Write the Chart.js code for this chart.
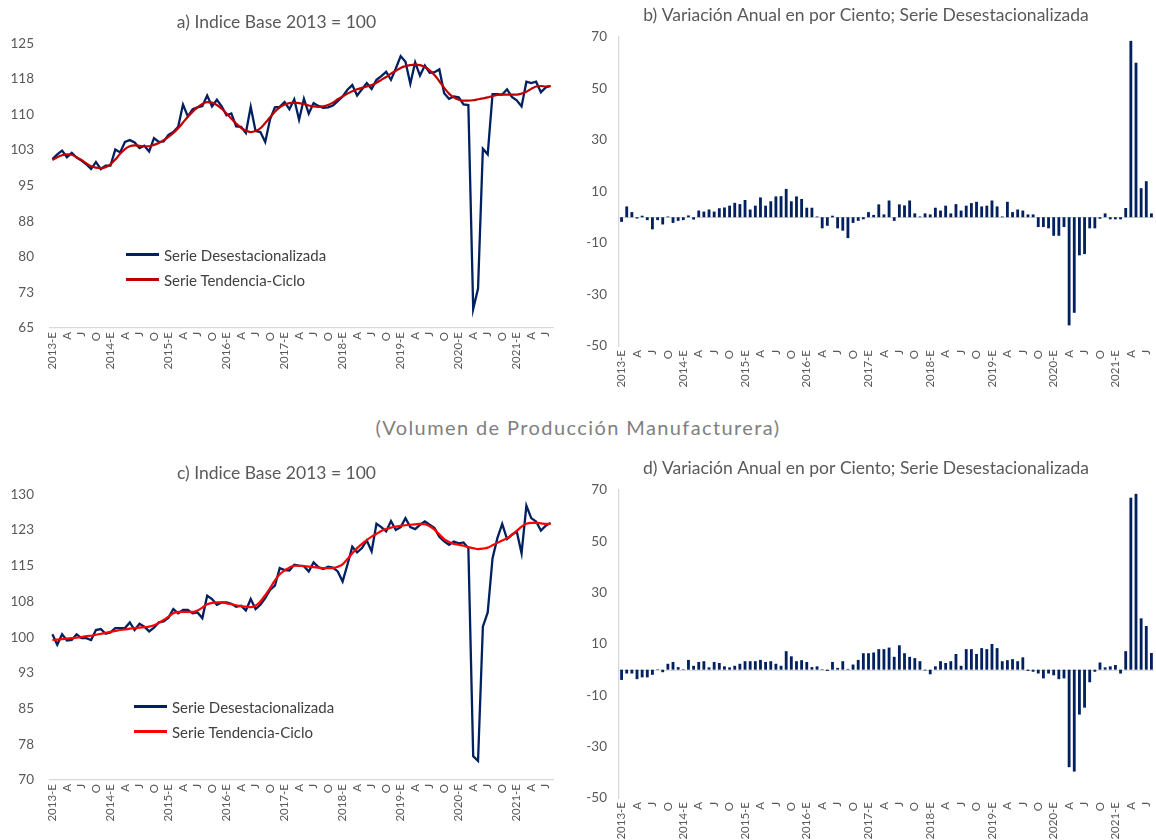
<!DOCTYPE html>
<html lang="es">
<head>
<meta charset="utf-8">
<title>Volumen de Producción Manufacturera</title>
<script src="https://cdn.jsdelivr.net/npm/chart.js@4.4.1/dist/chart.umd.min.js"></script>
<style>
  html, body { margin: 0; padding: 0; background: #ffffff; width: 1156px; height: 840px; overflow: hidden; }
  canvas { position: absolute; }
  #subtitle { position: absolute; left: 0; top: 415px; width: 1156px; text-align: center;
              font: 20px Lato, "Open Sans", sans-serif; letter-spacing: 1.4px; color: #7f7f7f; }
  .legend { position: absolute; font: 15px Lato, "Open Sans", sans-serif; color: #404040; }
  .legend .row { display: flex; align-items: center; height: 25px; }
  .legend .sw { display: inline-block; width: 33px; height: 2.5px; margin-right: 5px; }
</style>
</head>
<body>
<canvas id="cA" width="572" height="400" style="left:0;top:0"></canvas>
<canvas id="cB" width="596" height="400" style="left:578px;top:0"></canvas>
<canvas id="cC" width="572" height="400" style="left:0;top:440px"></canvas>
<canvas id="cD" width="596" height="400" style="left:578px;top:440px"></canvas>
<div id="subtitle">(Volumen de Producción Manufacturera)</div>
<div class="legend" id="legA" style="left:126px;top:242px"></div>
<div class="legend" id="legC" style="left:134px;top:694px"></div>

<script>
// ---- categories: monthly, January 2013 to August 2021 ----
const years = [2013, 2014, 2015, 2016, 2017, 2018, 2019, 2020, 2021];
const monthInitials = ['E', 'F', 'M', 'A', 'M', 'J', 'J', 'A', 'S', 'O', 'N', 'D'];
const lastMonthOfFinalYear = 8;

// ---- a) Indice base 2013 = 100 ----
const desestA = [
  100.6, 101.6, 102.4, 101.0, 101.9, 100.9, 100.3, 99.5, 98.5, 100.0, 98.5, 99.2,
  99.2, 102.6, 102.0, 104.2, 104.6, 104.1, 102.9, 103.4, 102.2, 105.0, 104.2, 104.3,
  105.7, 106.3, 107.4, 112.1, 109.6, 111.1, 111.5, 111.8, 114.0, 111.7, 113.1, 111.7,
  109.8, 110.2, 107.5, 107.4, 106.1, 111.6, 106.5, 106.3, 104.2, 109.0, 111.5, 111.6,
  112.6, 111.1, 113.2, 108.9, 113.3, 110.2, 112.4, 111.8, 111.4, 111.5, 111.9, 112.8,
  113.8, 115.2, 116.2, 114.0, 115.3, 116.6, 115.4, 117.3, 118.1, 119.0, 117.3, 119.7,
  122.3, 121.1, 116.5, 121.0, 118.2, 120.3, 118.8, 118.9, 119.5, 114.5, 113.3, 113.8,
  113.6, 112.1, 112.0, 69.0, 73.3, 102.8, 101.6, 114.3, 114.3, 114.2, 115.3, 113.7,
  113.0, 111.7, 116.9, 116.6, 116.9, 114.7, 115.7, 116.0
];
const tendA = [
  100.4, 101.0, 101.4, 101.6, 101.5, 101.0, 100.4, 99.7, 99.1, 98.8, 98.7, 98.9,
  99.5, 100.5, 101.7, 102.7, 103.3, 103.5, 103.4, 103.3, 103.3, 103.6, 104.0, 104.6,
  105.3, 106.1, 107.1, 108.3, 109.5, 110.6, 111.5, 112.2, 112.6, 112.5, 112.0, 111.2,
  110.2, 109.1, 108.1, 107.2, 106.6, 106.3, 106.5, 107.1, 108.2, 109.4, 110.6, 111.5,
  112.1, 112.4, 112.5, 112.4, 112.2, 111.9, 111.7, 111.6, 111.7, 112.0, 112.5, 113.2,
  113.8, 114.4, 114.9, 115.3, 115.6, 115.9, 116.2, 116.7, 117.3, 117.9, 118.6, 119.2,
  119.8, 120.2, 120.4, 120.5, 120.4, 120.0, 119.3, 118.3, 117.0, 115.6, 114.4, 113.6,
  113.1, 112.9, 112.9, 113.0, 113.2, 113.4, 113.6, 113.9, 114.1, 114.2, 114.2, 114.2,
  114.2, 114.4, 114.8, 115.4, 115.9, 116.0, 115.9, 116.0
];

// ---- b) variación anual, serie desestacionalizada ----
const varAnualB = [
  -1.8, 4.2, 2.0, -0.5, 0.6, -1.1, -4.7, -1.1, -2.8, 0.3, -2.2, -1.4,
  -1.1, 0.7, -0.9, 2.6, 2.2, 3.0, 2.2, 3.5, 3.8, 4.5, 5.6, 5.1,
  6.7, 3.0, 4.5, 7.7, 4.5, 6.2, 8.1, 8.2, 11.0, 6.2, 8.1, 7.1,
  3.7, 3.7, 0.3, -4.3, -3.3, 0.6, -4.3, -5.2, -8.1, -2.2, -1.4, -0.8,
  2.0, 0.9, 5.0, 1.1, 6.5, -1.4, 5.0, 4.6, 6.5, 1.5, 0.3, 1.5,
  1.1, 3.7, 2.6, 4.5, 1.5, 5.1, 2.6, 4.5, 5.5, 6.0, 4.2, 4.5,
  6.5, 4.2, 0.3, 6.0, 2.0, 3.0, 2.6, 1.1, 1.1, -3.8, -3.8, -4.3,
  -7.2, -7.2, -3.8, -42.0, -37.1, -14.8, -14.3, -4.3, -4.3, -0.6, 1.5, -0.8,
  -0.8, -0.8, 3.6, 68.5, 60.0, 11.3, 14.0, 1.5
];

// ---- c) Indice base 2013 = 100 ----
const desestC = [
  100.6, 98.4, 100.6, 99.3, 99.4, 100.6, 99.8, 99.8, 99.4, 101.5, 101.7, 100.7,
  101.0, 101.9, 101.9, 101.9, 103.1, 101.5, 102.8, 102.2, 101.2, 102.0, 103.1, 103.3,
  104.1, 105.9, 105.0, 105.7, 105.7, 105.0, 105.2, 104.0, 108.7, 108.0, 106.8, 107.3,
  107.3, 107.0, 106.4, 106.6, 105.6, 108.0, 105.9, 106.8, 108.2, 109.9, 110.8, 114.5,
  114.1, 114.0, 115.2, 115.0, 114.9, 113.8, 115.7, 114.7, 114.3, 114.8, 114.6, 113.8,
  111.7, 115.2, 119.0, 117.8, 118.7, 120.3, 118.0, 123.8, 123.1, 122.2, 124.4, 122.5,
  123.1, 125.0, 123.1, 122.7, 123.6, 124.3, 123.6, 122.9, 121.1, 120.1, 119.4, 120.1,
  119.7, 119.9, 118.7, 75.0, 74.0, 102.2, 105.2, 116.6, 120.8, 123.8, 120.6, 121.5,
  122.2, 117.6, 127.6, 125.0, 124.3, 122.4, 123.4, 124.0
];
const tendC = [
  99.4, 99.5, 99.6, 99.7, 99.8, 99.9, 100.0, 100.2, 100.3, 100.5, 100.7, 100.9,
  101.1, 101.3, 101.5, 101.6, 101.8, 101.9, 102.0, 102.1, 102.2, 102.5, 103.0, 103.6,
  104.3, 105.0, 105.3, 105.3, 105.3, 105.3, 105.6, 106.2, 106.9, 107.2, 107.3, 107.3,
  107.1, 106.9, 106.7, 106.5, 106.4, 106.3, 106.6, 107.5, 108.8, 110.3, 111.9, 113.2,
  114.0, 114.6, 115.0, 115.0, 114.9, 114.8, 114.7, 114.6, 114.5, 114.5, 114.5, 114.8,
  115.3, 116.4, 117.6, 118.7, 119.6, 120.4, 121.1, 121.7, 122.3, 122.7, 123.0, 123.2,
  123.4, 123.5, 123.6, 123.7, 123.8, 123.7, 123.3, 122.6, 121.6, 120.6, 120.0, 119.6,
  119.4, 119.2, 118.9, 118.7, 118.5, 118.6, 118.8, 119.3, 119.8, 120.3, 120.8, 121.5,
  122.3, 123.2, 123.8, 124.0, 124.0, 123.9, 123.8, 123.8
];

// ---- d) variación anual, serie desestacionalizada ----
const varAnualD = [
  -4.0, -1.5, -1.5, -3.7, -3.0, -3.0, -2.0, 0.2, -1.0, 2.3, 3.0, 1.0,
  0.2, 3.8, 1.5, 3.0, 3.3, 0.9, 3.0, 2.6, 1.3, 0.9, 1.5, 2.3,
  3.3, 3.3, 3.3, 3.8, 3.0, 3.3, 2.3, 1.5, 7.2, 5.2, 3.3, 3.7,
  3.0, 1.0, 1.3, 0.2, -0.5, 3.0, 0.7, 3.3, 0.3, 2.0, 3.8, 6.4,
  6.4, 6.7, 8.0, 8.0, 8.6, 5.0, 9.5, 6.4, 5.0, 4.5, 3.3, -0.3,
  -1.8, 1.3, 3.3, 2.6, 3.3, 6.1, 1.5, 8.0, 8.0, 6.1, 8.4, 8.0,
  10.0, 8.4, 3.3, 3.7, 4.1, 3.3, 4.8, -0.5, -0.8, -1.5, -3.4, -1.5,
  -2.2, -3.7, -3.4, -38.0, -39.7, -17.5, -14.8, -4.9, -0.8, 2.8, 0.9, 1.3,
  1.8, -1.5, 7.2, 67.0, 68.5, 20.0, 17.0, 6.5
];

const labelA1 = 'Serie Desestacionalizada';
const labelA2 = 'Serie Tendencia-Ciclo';

// ---- build the category labels ("2013-E", "F", "M", ...) ----
const categories = [];
years.forEach((y, yi) => {
  const nMonths = yi === years.length - 1 ? lastMonthOfFinalYear : 12;
  for (let m = 0; m < nMonths; m++) {
    categories.push(m === 0 ? y + '-' + monthInitials[m] : monthInitials[m]);
  }
});

// ---- shared styling ----
const NAVY = '#002060';
const TEXT = '#595959';
const AXIS = '#d9d9d9';
Chart.defaults.font.family = 'Lato, "Open Sans", sans-serif';
Chart.defaults.color = TEXT;
Chart.defaults.animation = false;

function fixedWidth(w) { return function (scale) { scale.width = w; }; }
function fixedHeight(h) { return function (scale) { scale.height = h; }; }

function monthAxis(height, showBorder) {
  return {
    type: 'category',
    offset: true,
    afterFit: fixedHeight(height),
    grid: { display: false, drawTicks: false },
    border: { display: showBorder, color: AXIS, width: 1.3 },
    ticks: {
      autoSkip: false, minRotation: 90, maxRotation: 90, padding: 4,
      font: { size: 11.5 }, color: TEXT,
      callback: function (value, index) { return index % 3 === 0 ? this.getLabelForValue(value) : ''; }
    }
  };
}

function titleOpts(text, padTop, padBottom) {
  return {
    display: true, text: text, color: TEXT,
    font: { size: 17.5, weight: 'normal' },
    padding: { top: padTop, bottom: padBottom }
  };
}

// horizontal line at zero for the bar panels
const zeroLine = {
  id: 'zeroLine',
  beforeDatasetsDraw(chart) {
    const { ctx, chartArea, scales } = chart;
    const py = Math.round(scales.y.getPixelForValue(0)) + 0.5;
    ctx.save();
    ctx.strokeStyle = AXIS;
    ctx.lineWidth = 1;
    ctx.beginPath();
    ctx.moveTo(chartArea.left, py);
    ctx.lineTo(chartArea.right, py);
    ctx.stroke();
    ctx.restore();
  }
};

function indexChart(id, title, seriesD, seriesT, trendColor, yMin, yMax, padTop, padBottom, xHeight) {
  return new Chart(document.getElementById(id), {
    type: 'line',
    data: {
      labels: categories,
      datasets: [
        { label: labelA1, data: seriesD, borderColor: NAVY, backgroundColor: NAVY,
          borderWidth: 2.3, pointRadius: 0, tension: 0, order: 2 },
        { label: labelA2, data: seriesT, borderColor: trendColor, backgroundColor: trendColor,
          borderWidth: 2.2, pointRadius: 0, cubicInterpolationMode: 'monotone', order: 1 }
      ]
    },
    options: {
      responsive: false, devicePixelRatio: 1,
      layout: { padding: { left: 0, right: 19, top: 0, bottom: 0 } },
      plugins: { legend: { display: false }, tooltip: { enabled: false },
                 title: titleOpts(title, padTop, padBottom) },
      scales: {
        x: monthAxis(xHeight, true),
        y: {
          min: yMin, max: yMax,
          afterFit: fixedWidth(50),
          grid: { display: false, drawTicks: false },
          border: { display: false },
          ticks: { stepSize: 7.5, padding: 16, font: { size: 13.5 }, color: TEXT,
                   callback: v => Math.round(v) }
        }
      }
    }
  });
}

function barChart(id, title, values, padTop, padBottom, xHeight) {
  return new Chart(document.getElementById(id), {
    type: 'bar',
    data: {
      labels: categories,
      datasets: [{ label: labelA1, data: values, backgroundColor: NAVY,
                   barPercentage: 0.55, categoryPercentage: 1.0 }]
    },
    options: {
      responsive: false, devicePixelRatio: 1,
      layout: { padding: { left: 0, right: 20, top: 0, bottom: 0 } },
      plugins: { legend: { display: false }, tooltip: { enabled: false },
                 title: titleOpts(title, padTop, padBottom) },
      scales: {
        x: monthAxis(xHeight, false),
        y: {
          min: -50, max: 70,
          afterFit: fixedWidth(41),
          grid: { display: false, drawTicks: false },
          border: { display: true, color: AXIS, width: 1.3 },
          ticks: { stepSize: 20, padding: 12, font: { size: 13.5 }, color: TEXT }
        }
      }
    },
    plugins: [zeroLine]
  });
}

const chartA = indexChart('cA', 'a) Indice Base 2013 = 100', desestA, tendA, '#C00000', 65, 125, 12.1, 10.2, 72);
const chartB = barChart('cB', 'b) Variación Anual en por Ciento; Serie Desestacionalizada', varAnualB, 4.5, 11.5, 54);
const chartC = indexChart('cC', 'c) Indice Base 2013 = 100', desestC, tendC, '#FF0000', 70, 130, 23.3, 10, 60);
const chartD = barChart('cD', 'd) Variación Anual en por Ciento; Serie Desestacionalizada', varAnualD, 17.5, 11.5, 42);

// legends inside the index panels, built from the datasets
function buildLegend(elId, chart) {
  const el = document.getElementById(elId);
  chart.data.datasets.forEach(ds => {
    const row = document.createElement('div');
    row.className = 'row';
    const sw = document.createElement('span');
    sw.className = 'sw';
    sw.style.background = ds.borderColor;
    const tx = document.createElement('span');
    tx.textContent = ds.label;
    row.appendChild(sw);
    row.appendChild(tx);
    el.appendChild(row);
  });
}
buildLegend('legA', chartA);
buildLegend('legC', chartC);
</script>
</body>
</html>
